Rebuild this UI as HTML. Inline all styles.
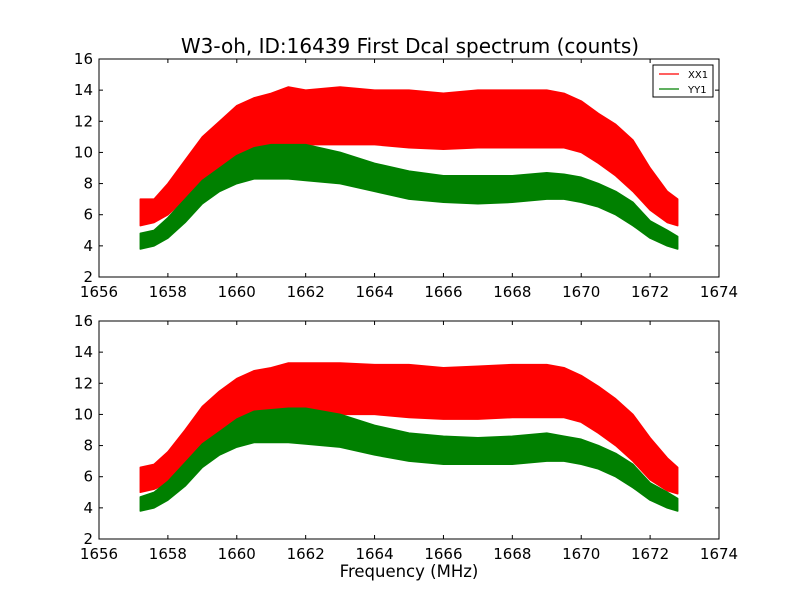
<!DOCTYPE html>
<html><head><meta charset="utf-8"><style>
body{margin:0;background:#fff}
svg text{font-family:"DejaVu Sans","Liberation Sans",sans-serif}
</style></head><body>
<svg id="c" width="800" height="600" xmlns="http://www.w3.org/2000/svg">
<rect width="800" height="600" fill="#fff"/>
<text x="410" y="53" font-size="20" text-anchor="middle">W3-oh, ID:16439 First Dcal spectrum (counts)</text>
<text x="409" y="577" font-size="16.5" text-anchor="middle">Frequency (MHz)</text>
</svg>
<script>
const freqs=[1657.2,1657.6,1658,1658.5,1659,1659.5,1660,1660.5,1661,1661.5,1662,1663,1664,1665,1666,1667,1668,1669,1669.5,1670,1670.5,1671,1671.5,1672,1672.5,1672.8];
const xxLoTop=[5.3,5.5,6.0,7.0,8.0,9.0,9.8,10.0,10.3,10.5,10.5,10.5,10.5,10.3,10.2,10.3,10.3,10.3,10.3,10.0,9.3,8.5,7.5,6.3,5.5,5.3];
const xxHiTop=[7.0,7.0,8.0,9.5,11.0,12.0,13.0,13.5,13.8,14.2,14.0,14.2,14.0,14.0,13.8,14.0,14.0,14.0,13.8,13.3,12.5,11.8,10.8,9.0,7.5,7.0];
const yyLoTop=[3.8,4.0,4.5,5.5,6.7,7.5,8.0,8.3,8.3,8.3,8.2,8.0,7.5,7.0,6.8,6.7,6.8,7.0,7.0,6.8,6.5,6.0,5.3,4.5,4.0,3.8];
const yyHiTop=[4.8,5.0,5.8,7.0,8.2,9.0,9.8,10.3,10.5,10.5,10.5,10.0,9.3,8.8,8.5,8.5,8.5,8.7,8.6,8.4,8.0,7.5,6.8,5.6,5.0,4.6];
const xxLoBot=[5.0,5.2,5.6,6.6,7.5,8.5,9.3,9.6,9.8,10.0,10.0,10.0,10.0,9.8,9.7,9.7,9.8,9.8,9.8,9.5,8.8,8.0,7.0,5.8,5.1,4.9];
const xxHiBot=[6.6,6.8,7.6,9.0,10.5,11.5,12.3,12.8,13.0,13.3,13.3,13.3,13.2,13.2,13.0,13.1,13.2,13.2,13.0,12.5,11.8,11.0,10.0,8.5,7.2,6.6];
const yyLoBot=[3.8,4.0,4.5,5.4,6.6,7.4,7.9,8.2,8.2,8.2,8.1,7.9,7.4,7.0,6.8,6.8,6.8,7.0,7.0,6.8,6.5,6.0,5.3,4.5,4.0,3.8];
const yyHiBot=[4.7,5.0,5.7,6.9,8.1,8.9,9.7,10.2,10.3,10.4,10.4,10.0,9.3,8.8,8.6,8.5,8.6,8.8,8.6,8.4,8.0,7.5,6.8,5.6,5.0,4.6];
const xTicks=[1656,1658,1660,1662,1664,1666,1668,1670,1672,1674];
const yTicks=[2,4,6,8,10,12,14,16];
const NS="http://www.w3.org/2000/svg";
const svg=document.getElementById('c');
function mk(t,a,p){const e=document.createElementNS(NS,t);for(const k in a)e.setAttribute(k,a[k]);(p||svg).appendChild(e);return e;}
const L=99,R=719;
const xs=f=>L+(f-1656)/(1674-1656)*(R-L);
function panel(top,bot,series,name,legend){
  const ys=v=>bot-(v-2)/(16-2)*(bot-top);
  const g=mk('g',{});
  
  
  series.forEach(s=>{
    let d='M'+freqs.map((f,i)=>xs(f).toFixed(1)+','+ys(s.hi[i]).toFixed(1)).join('L');
    for(let i=freqs.length-1;i>=0;i--)d+='L'+xs(freqs[i]).toFixed(1)+','+ys(s.lo[i]).toFixed(1);
    const p=mk('path',{d:d+'Z',fill:s.c,stroke:s.c,'stroke-width':1.5,'stroke-linejoin':'round'},g);
    
    
  });
  const fr=mk('rect',{x:L,y:top,width:R-L,height:bot-top,fill:'none',stroke:'#000'},g);
  
  
  xTicks.forEach(t=>{
    const x=xs(t);
    mk('line',{x1:x,x2:x,y1:bot,y2:bot-4,stroke:'#000'},g);
    mk('line',{x1:x,x2:x,y1:top,y2:top+4,stroke:'#000'},g);
    const tx=mk('text',{x:x,y:bot+20,'font-size':15,'text-anchor':'middle'},g);
    tx.textContent=t;
    
    
  });
  yTicks.forEach(t=>{
    const y=ys(t);
    mk('line',{x1:L,x2:L+4,y1:y,y2:y,stroke:'#000'},g);
    mk('line',{x1:R,x2:R-4,y1:y,y2:y,stroke:'#000'},g);
    const tx=mk('text',{x:L-6,y:y+5,'font-size':15,'text-anchor':'end'},g);
    tx.textContent=t;
    
    
  });
  if(legend){
    const lg=mk('g',{},g);
    
    
    mk('rect',{x:653,y:65,width:60,height:32,fill:'#fff',stroke:'#000'},lg);
    [['XX1','red',77],['YY1','green',92]].forEach(e=>{
      mk('line',{x1:659,x2:679,y1:e[2]-3,y2:e[2]-3,stroke:e[1],'stroke-width':1.2},lg);
      const t=mk('text',{x:688,y:e[2]+1,'font-size':10},lg);
      t.textContent=e[0];
      
      
    });
  }
}
panel(59,277,[{lo:xxLoTop,hi:xxHiTop,c:'red',n:'xx1-series-top'},{lo:yyLoTop,hi:yyHiTop,c:'green',n:'yy1-series-top'}],'top-panel',true);
panel(321,539,[{lo:xxLoBot,hi:xxHiBot,c:'red',n:'xx1-series-bottom'},{lo:yyLoBot,hi:yyHiBot,c:'green',n:'yy1-series-bottom'}],'bottom-panel',false);
</script>
</body></html>
